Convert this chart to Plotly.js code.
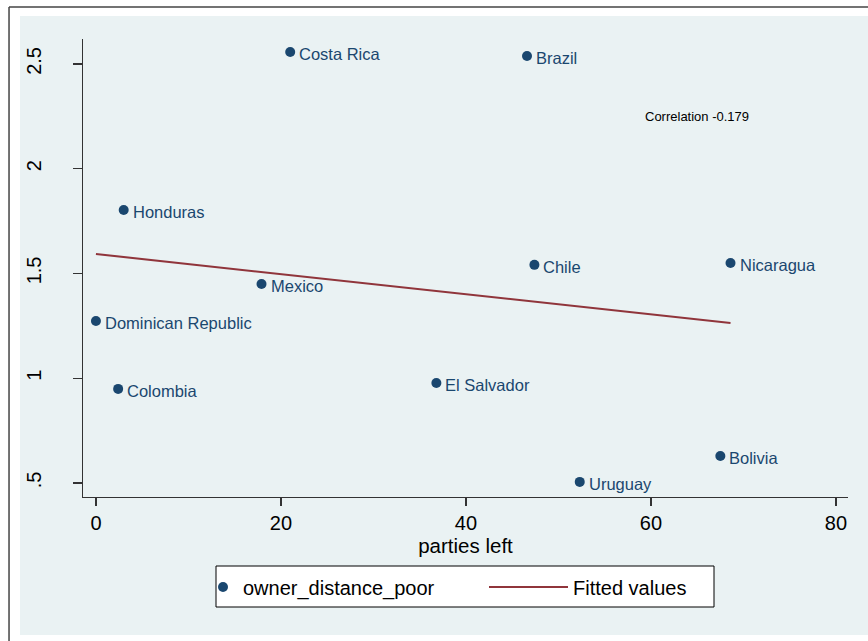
<!DOCTYPE html>
<html><head><meta charset="utf-8">
<script src="https://cdn.plot.ly/plotly-3.0.1.min.js"></script>
<style>html,body{margin:0;padding:0;background:#fff;} #chart{width:868px;height:641px;}</style>
</head><body><div id="chart"></div>
<script>
// ---- data ----
const countries = ["Costa Rica","Brazil","Honduras","Mexico","Dominican Republic","Colombia","Chile","Nicaragua","El Salvador","Bolivia","Uruguay"];
const partiesLeft = [21.0, 46.6, 3.0, 17.9, 0.0, 2.4, 47.4, 68.6, 36.8, 67.5, 52.3];
const ownerDistancePoor = [2.557, 2.538, 1.803, 1.450, 1.273, 0.949, 1.541, 1.550, 0.977, 0.629, 0.505];
const fittedX = [0.0, 68.6];
const fittedY = [1.593, 1.263];
const xTickVals = [0, 20, 40, 60, 80];
const xTickText = ["0", "20", "40", "60", "80"];
const yTickVals = [0.5, 1, 1.5, 2, 2.5];
const yTickText = [".5", "1", "1.5", "2", "2.5"];
const corrText = "Correlation -0.179";
const corrX = 65;
const corrY = 2.25;
const xTitle = "parties left";
const seriesName = "owner_distance_poor";
const fitName = "Fitted values";

// ---- styles ----
const FONT = "Liberation Sans, Arial, sans-serif";
const NAVY = "#1a476f";
const MAROON = "#90353b";
const BLUISH = "#eaf2f3";
const AXIS = "#333333";

const traces = [
  {x: partiesLeft, y: ownerDistancePoor, type: "scatter", mode: "markers", name: seriesName,
   marker: {color: NAVY, size: 10}, cliponaxis: false, legend: "legend"},
  {x: fittedX, y: fittedY, type: "scatter", mode: "lines", name: fitName,
   line: {color: MAROON, width: 2}, legend: "legend2"}
];

const annotations = countries.map((c, i) => ({
  x: partiesLeft[i], y: ownerDistancePoor[i], xref: "x", yref: "y", text: c,
  showarrow: false, xanchor: "left", yanchor: "middle", xshift: 7, yshift: -2,
  font: {family: FONT, size: 16.5, color: NAVY}
}));
annotations.push({x: corrX, y: corrY, xref: "x", yref: "y", text: corrText, showarrow: false,
  xanchor: "center", yanchor: "middle", font: {family: FONT, size: 13, color: "#000"}});

const legendCommon = {orientation: "h", yanchor: "middle", y: -0.1965, xanchor: "left",
  bgcolor: "rgba(0,0,0,0)", borderwidth: 0, font: {size: 20, color: "#000"}};

const layout = {
  width: 868, height: 641,
  margin: {l: 83, r: 20, t: 39, b: 144},
  paper_bgcolor: "#ffffff", plot_bgcolor: "#ffffff",
  font: {family: FONT, color: "#000"},
  showlegend: true,
  xaxis: {range: [-1.4, 81.3], tickmode: "array", tickvals: xTickVals, ticktext: xTickText,
    ticks: "outside", ticklen: 8, tickwidth: 1.2, tickcolor: AXIS,
    showline: true, linecolor: AXIS, linewidth: 1.3, showgrid: false, zeroline: false,
    tickfont: {size: 20, color: "#000"},
    title: {text: xTitle, font: {size: 20.5, color: "#000"}, standoff: 2}, automargin: false},
  yaxis: {range: [0.433, 2.619], tickmode: "array", tickvals: yTickVals, ticktext: yTickText,
    ticks: "outside", ticklen: 9, tickwidth: 1.2, tickcolor: AXIS, tickangle: -90,
    ticklabelstandoff: 24,
    showline: true, linecolor: AXIS, linewidth: 1.3, showgrid: true, gridcolor: BLUISH, gridwidth: 1.5,
    zeroline: false, tickfont: {size: 20, color: "#000"}, automargin: false},
  legend: Object.assign({}, legendCommon, {x: (203 - 83) / 765, itemwidth: 30}),
  legend2: Object.assign({}, legendCommon, {x: (484 - 83) / 765, itemwidth: 79}),
  shapes: [
    {type: "rect", xref: "paper", yref: "paper", x0: -0.0824, x1: 1.05, y0: -0.3013, y1: 1.0502,
     fillcolor: BLUISH, line: {width: 0}, layer: "below"},
    {type: "line", xref: "paper", yref: "paper", x0: -0.0967, x1: -0.0967, y0: -0.33, y1: 1.0699,
     line: {color: "#444", width: 1.5}, layer: "below"},
    {type: "line", xref: "paper", yref: "paper", x0: -0.0967, x1: 1.05, y0: 1.0699, y1: 1.0699,
     line: {color: "#444", width: 1.5}, layer: "below"},
    {type: "rect", xref: "paper", yref: "paper", x0: (216 - 83) / 765, x1: (714 - 83) / 765,
     y0: (497 - 607) / 458, y1: (497 - 566) / 458,
     fillcolor: "#ffffff", line: {color: "#000", width: 1}, layer: "below"}
  ],
  annotations: annotations
};

Plotly.newPlot("chart", traces, layout, {displayModeBar: false, staticPlot: true});
</script></body></html>
